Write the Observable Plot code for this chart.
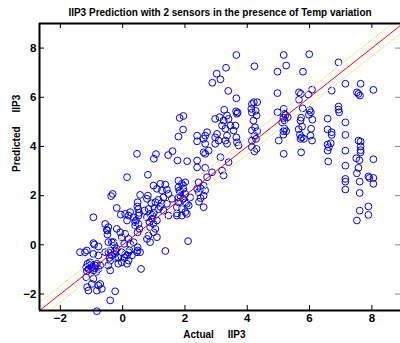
<!DOCTYPE html>
<html><head><meta charset="utf-8">
<script src="https://cdn.jsdelivr.net/npm/d3@7"></script>
<script src="https://cdn.jsdelivr.net/npm/@observablehq/plot@0.6"></script>
<style>body{margin:0;background:#fff} svg{display:block}</style>
</head><body><div id="chart"></div>
<script>
const title = "IIP3 Prediction with 2 sensors in the presence of Temp variation";
const xLabel = "Actual\u00a0\u00a0\u00a0\u00a0\u00a0IIP3";
const yLabel = "Predicted\u00a0\u00a0\u00a0\u00a0\u00a0IIP3";
const xTicks = [-2, 0, 2, 4, 6, 8];
const yTicks = [-2, 0, 2, 4, 6, 8];
const xDomain = [-2.67, 8.92];
const yDomain = [-2.67, 9];
const refLine = [-3, 10];      // ideal y = x
const band = 0.33;             // pale band lines y = x +/- band

const actual = [
-1.21,-0.94,-1.13,-1.05,-1.17,-1.10,-0.99,-0.88,-0.83,-0.72,
-0.94,-1.15,-0.78,-1.05,-1.17,-0.94,-0.99,-0.78,-0.72,-1.14,
-1.10,-0.83,-0.67,-0.24,-0.40,-0.83,0.59,-1.00,-0.90,-1.08,
-0.85,-1.37,-0.91,-0.46,-0.35,-0.24,-0.14,-0.03,0.08,0.19,
0.30,0.46,0.56,0.19,-0.03,0.14,-0.14,-0.40,-0.46,-0.40,
0.05,-0.19,-0.30,-0.49,-0.51,-0.94,-0.56,-0.46,-0.49,-0.19,
-0.06,0.08,0.24,0.19,0.14,0.35,0.40,0.48,0.51,0.43,
0.51,0.40,0.54,0.48,-0.19,-0.08,0.08,-0.03,0.19,0.05,
0.24,0.35,0.48,0.48,0.22,0.14,-0.94,-0.78,-1.15,-0.78,
-0.56,-0.46,-0.35,-0.27,-0.40,-0.24,-0.42,-0.24,-0.14,0.70,
0.83,0.88,0.78,0.94,0.86,0.99,0.88,1.10,1.05,0.99,
0.83,0.78,1.10,0.88,0.92,1.05,1.15,1.31,1.47,1.58,
1.42,0.99,1.21,1.37,1.10,1.26,1.42,0.56,0.81,0.78,
-0.37,-0.32,0.14,0.81,0.47,1.31,1.47,1.37,2.10,0.50,
0.53,1.00,1.02,0.95,1.20,1.25,1.15,1.79,1.90,2.01,
1.79,1.95,1.85,2.01,1.79,1.94,2.01,1.79,1.74,1.90,
2.01,1.74,2.12,2.17,2.06,1.74,1.90,2.06,1.85,1.95,
1.82,2.39,2.39,2.39,2.39,2.60,2.65,2.71,2.76,2.65,
2.60,2.65,2.87,3.19,3.40,2.44,2.39,2.44,2.60,2.65,
2.60,3.24,2.60,3.14,2.71,2.65,2.50,2.50,2.45,2.97,
3.11,3.24,3.19,3.35,3.40,3.30,3.46,3.62,3.67,3.56,
3.35,3.03,2.97,2.97,3.08,3.30,3.35,3.65,3.67,3.72,
3.26,3.64,3.69,1.95,1.83,1.94,1.79,3.65,4.23,3.32,
3.02,3.14,2.88,3.39,3.65,0.46,1.00,1.07,1.46,1.60,
1.76,2.07,4.21,4.32,4.15,4.13,4.15,4.27,4.30,4.20,
4.25,4.15,4.32,4.23,4.28,4.15,4.30,4.15,4.23,5.17,
5.25,4.97,4.97,4.97,5.18,5.23,5.16,5.20,5.20,5.16,
5.25,5.16,5.01,5.17,5.17,5.30,5.12,5.99,5.79,5.66,
5.72,5.66,5.78,5.73,5.71,5.76,5.65,5.69,5.75,5.71,
5.82,5.73,6.08,5.96,6.00,6.04,5.98,6.09,6.05,6.03,
6.08,6.93,6.71,6.93,6.93,6.95,6.58,6.71,6.71,6.58,
6.68,6.62,6.58,6.60,6.58,7.15,7.15,7.15,7.15,7.15,
7.15,7.15,7.15,7.64,7.52,7.57,7.62,7.57,7.64,7.64,
7.64,7.50,7.60,7.64,7.57,7.52,7.61,7.61,7.61,7.52,
8.05,8.05,7.89,7.92,8.05,8.05,7.89,7.89
];
const predicted = [
-0.30,-0.37,-0.77,-0.84,-0.91,-0.98,-0.91,-0.84,-0.77,-0.84,
-1.04,-1.07,-0.98,-0.71,-1.32,-1.38,-1.59,-1.65,-1.59,-1.72,
-1.86,-1.86,-1.79,-1.89,-2.26,-2.70,-0.98,-0.80,-0.95,-1.00,
-1.10,-0.30,0.01,-0.30,-0.43,-0.37,-0.50,-0.30,-0.39,-0.30,
-0.43,-0.30,-0.30,-0.64,-0.71,-0.77,-0.77,-0.64,-0.84,-1.04,
-0.53,-0.16,0.11,0.42,0.61,1.12,0.85,0.72,0.58,1.50,
1.23,1.26,1.33,1.19,0.99,1.12,0.92,1.73,1.19,0.99,
0.85,0.78,0.65,0.51,0.65,0.51,0.45,0.31,0.24,0.04,
0.04,0.11,-0.10,-0.23,-0.23,-0.43,0.07,-0.07,-0.23,-0.43,
-0.30,0.11,0.11,-0.03,-0.23,-0.23,-0.53,-0.53,-0.53,1.39,
1.46,1.26,1.12,1.06,0.92,0.85,0.72,0.99,0.65,0.51,
0.38,0.24,0.31,0.11,1.69,1.73,1.83,1.93,2.07,1.87,
1.67,2.41,2.48,2.45,2.28,2.21,2.24,2.03,2.00,1.87,
1.98,2.07,2.75,2.85,1.56,1.39,1.19,-0.25,0.15,1.45,
1.30,1.30,1.50,1.20,1.55,1.70,1.45,2.61,2.48,2.54,
2.34,2.28,2.14,2.07,1.93,1.87,1.73,1.73,1.53,1.46,
1.33,1.19,1.60,1.93,1.26,1.28,1.19,1.67,2.00,2.40,
2.20,4.44,4.21,3.43,3.15,4.31,4.11,4.58,3.83,3.70,
3.76,3.13,2.95,3.02,3.36,2.54,2.28,2.14,2.41,2.21,
2.00,2.82,1.53,3.56,2.75,4.44,2.30,1.90,1.75,5.12,
5.19,5.05,4.85,5.26,5.12,4.72,4.85,4.85,5.33,4.65,
4.44,4.51,4.37,4.11,4.24,4.24,4.11,4.37,4.17,4.04,
5.49,5.43,5.38,5.24,5.16,4.69,4.40,7.72,7.26,7.20,
6.96,6.73,6.59,6.26,5.96,3.70,3.50,3.69,3.65,3.81,
3.43,3.40,5.80,5.80,5.73,5.53,5.38,5.45,5.26,5.05,
4.78,4.65,4.62,4.44,4.31,4.24,3.90,3.97,3.80,7.72,
7.29,7.04,6.17,5.39,5.33,5.28,5.16,5.05,4.72,4.62,
4.62,4.48,4.24,3.70,5.53,5.19,4.98,7.75,7.04,6.20,
6.14,5.90,5.55,5.17,5.05,4.81,4.70,4.48,4.37,4.31,
4.31,3.76,6.31,6.11,5.48,5.39,5.29,5.09,4.72,4.44,
4.24,7.42,6.27,5.62,5.50,5.39,5.13,4.58,4.47,4.08,
4.13,3.97,3.83,3.39,4.69,6.55,4.98,4.47,3.83,3.22,
2.68,2.57,2.25,6.55,6.20,6.14,6.07,4.24,4.20,4.00,
3.85,3.52,3.44,3.76,3.13,2.91,2.57,2.11,1.39,0.99,
6.30,3.48,2.78,2.72,2.72,2.48,1.56,1.22
];

const points = actual.map((x, i) => ({x, y: predicted[i]}));
const ideal = refLine.map(v => ({x: v, y: v}));
const upper = refLine.map(v => ({x: v, y: v + band}));
const lower = refLine.map(v => ({x: v, y: v - band}));

const W = 400, H = 343, mL = 39, mR = 0, mT = 23, mB = 33;
const plotW = W - mL - mR, plotH = H - mT - mB, tick = 5;
const font = "'Liberation Sans', Arial, Helvetica, sans-serif";

const chart = Plot.plot({
  width: W, height: H,
  marginLeft: mL, marginRight: mR, marginTop: mT, marginBottom: mB,
  style: {fontFamily: font, background: "white", overflow: "visible"},
  x: {domain: xDomain},
  y: {domain: yDomain},
  marks: [
    Plot.dot(points, {x: "x", y: "y", r: 3.4, stroke: "#0000ff", strokeWidth: 1, fill: "none"}),
    Plot.line(upper, {x: "x", y: "y", stroke: "#f0ec8a", strokeWidth: 1, clip: true}),
    Plot.line(lower, {x: "x", y: "y", stroke: "#f0ec8a", strokeWidth: 1, clip: true}),
    Plot.line(ideal, {x: "x", y: "y", stroke: "#ff0000", strokeWidth: 1, clip: true}),
    Plot.ruleX(xTicks, {insetTop: plotH - tick, stroke: "black"}),
    Plot.ruleX(xTicks, {insetBottom: plotH - tick, stroke: "black"}),
    Plot.ruleY(yTicks, {insetRight: plotW - tick, stroke: "black"}),
    Plot.ruleY(yTicks, {insetLeft: plotW - tick, stroke: "#888"}),
    Plot.ruleX([xDomain[0]], {stroke: "black", strokeWidth: 2}),
    Plot.ruleY([yDomain[0]], {stroke: "black", strokeWidth: 2}),
    Plot.ruleY([yDomain[1]], {stroke: "black", strokeWidth: 2}),
    Plot.axisX({ticks: xTicks, tickSize: 0, tickPadding: 3, fontSize: 11.5, fontWeight: "bold", label: null}),
    Plot.axisY({ticks: yTicks, tickSize: 0, tickPadding: 3, fontSize: 11.5, fontWeight: "bold", label: null}),
    Plot.text([title], {text: d => d, frameAnchor: "top", lineAnchor: "bottom", dy: -8, fontSize: 10, fontWeight: "bold"}),
    Plot.text([xLabel], {text: d => d, frameAnchor: "bottom", lineAnchor: "bottom", dy: 27, dx: -5.6, fontSize: 10, fontWeight: "bold"}),
    Plot.text([yLabel], {text: d => d, frameAnchor: "left", lineAnchor: "bottom", rotate: -90, dx: -20, dy: 5, fontSize: 10, fontWeight: "bold"})
  ]
});
document.getElementById("chart").appendChild(chart);
</script>
</body></html>
